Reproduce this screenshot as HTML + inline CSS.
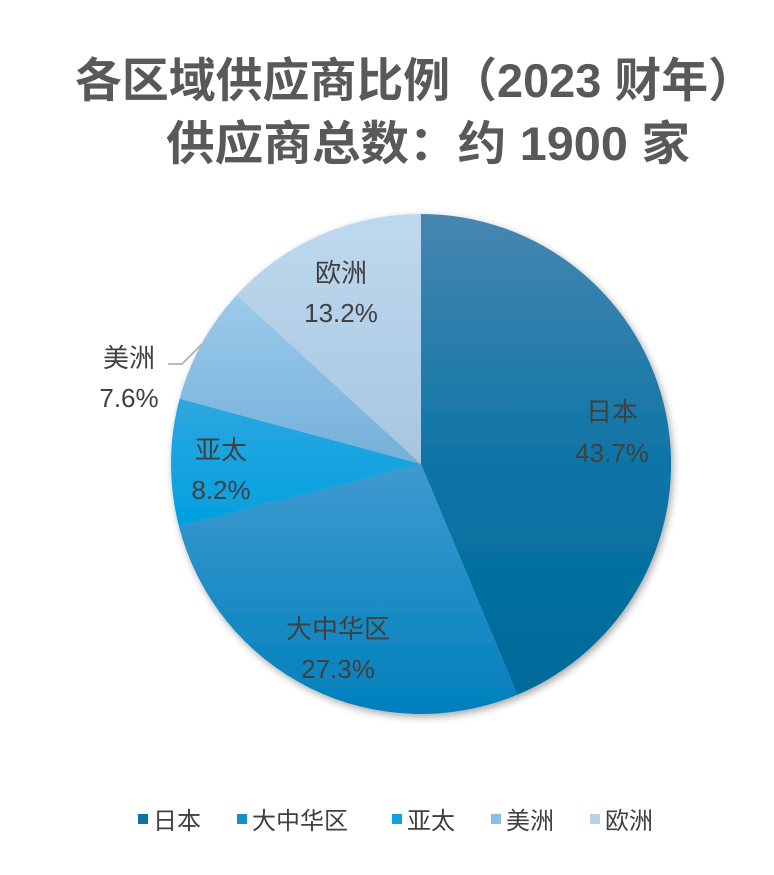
<!DOCTYPE html>
<html><head><meta charset="utf-8"><style>
body{margin:0;background:#fff;width:774px;height:870px;overflow:hidden;font-family:"Liberation Sans","Noto Sans CJK SC",sans-serif;}
</style></head><body>
<svg width="774" height="870" xmlns="http://www.w3.org/2000/svg" font-family="Liberation Sans, Noto Sans CJK SC, sans-serif">
<defs>
<linearGradient id="g1" x1="0" y1="0" x2="0" y2="1"><stop offset="0" stop-color="#4686b0"/><stop offset="0.55" stop-color="#0a74a6"/><stop offset="1" stop-color="#006a98"/></linearGradient>
<linearGradient id="g2" x1="0" y1="0" x2="0" y2="1"><stop offset="0" stop-color="#3f9ad0"/><stop offset="1" stop-color="#0080bc"/></linearGradient>
<linearGradient id="g3" x1="0" y1="0" x2="0" y2="1"><stop offset="0" stop-color="#2ea6e0"/><stop offset="1" stop-color="#00a0e0"/></linearGradient>
<linearGradient id="g4" x1="0" y1="0" x2="0" y2="1"><stop offset="0" stop-color="#9ccaea"/><stop offset="1" stop-color="#74b0da"/></linearGradient>
<linearGradient id="g5" x1="0" y1="0" x2="0" y2="1"><stop offset="0" stop-color="#bed9ef"/><stop offset="1" stop-color="#a6c6e0"/></linearGradient>
<filter id="sh" x="-10%" y="-10%" width="120%" height="120%"><feGaussianBlur in="SourceAlpha" stdDeviation="4"/><feOffset dx="2" dy="3"/><feComponentTransfer><feFuncA type="linear" slope="0.35"/></feComponentTransfer><feMerge><feMergeNode/><feMergeNode in="SourceGraphic"/></feMerge></filter>
</defs>
<text x="415" y="97" text-anchor="middle" font-size="47" font-weight="bold" fill="#595959" textLength="680" lengthAdjust="spacingAndGlyphs">各区域供应商比例（2023 财年）</text>
<text x="428" y="160" text-anchor="middle" font-size="47" font-weight="bold" fill="#595959" textLength="524" lengthAdjust="spacingAndGlyphs">供应商总数：约 1900 家</text>
<g filter="url(#sh)">
<path d="M421,464 L421,214 A250,250 0 0 1 517.4,694.7 Z" fill="url(#g1)"/>
<path d="M421,464 L517.4,694.7 A250,250 0 0 1 178.9,526.2 Z" fill="url(#g2)"/>
<path d="M421,464 L178.9,526.2 A250,250 0 0 1 179.6,398.8 Z" fill="url(#g3)"/>
<path d="M421,464 L179.6,398.8 A250,250 0 0 1 236.6,295.1 Z" fill="url(#g4)"/>
<path d="M421,464 L236.6,295.1 A250,250 0 0 1 421,214 Z" fill="url(#g5)"/>
</g>
<polyline points="168,364 182,364 202,344" fill="none" stroke="#a6a6a6" stroke-width="1.5"/>
<g font-size="26" fill="#404040" text-anchor="middle">
<text x="612" y="421">日本</text><text x="612" y="462">43.7%</text>
<text x="341" y="282">欧洲</text><text x="341" y="322">13.2%</text>
<text x="129" y="367">美洲</text><text x="129" y="407">7.6%</text>
<text x="221" y="459">亚太</text><text x="221" y="499">8.2%</text>
<text x="338" y="638">大中华区</text><text x="338" y="678">27.3%</text>
</g>
<g font-size="24" fill="#404040">
<rect x="138" y="814" width="10" height="10" fill="#0a74a6"/><text x="153" y="829">日本</text>
<rect x="237" y="814" width="10" height="10" fill="#1a8cc8"/><text x="252" y="829">大中华区</text>
<rect x="392" y="814" width="10" height="10" fill="#10a2e0"/><text x="407" y="829">亚太</text>
<rect x="491" y="814" width="10" height="10" fill="#88bfe4"/><text x="506" y="829">美洲</text>
<rect x="590" y="814" width="10" height="10" fill="#b4d2ea"/><text x="605" y="829">欧洲</text>
</g>
</svg>
</body></html>
